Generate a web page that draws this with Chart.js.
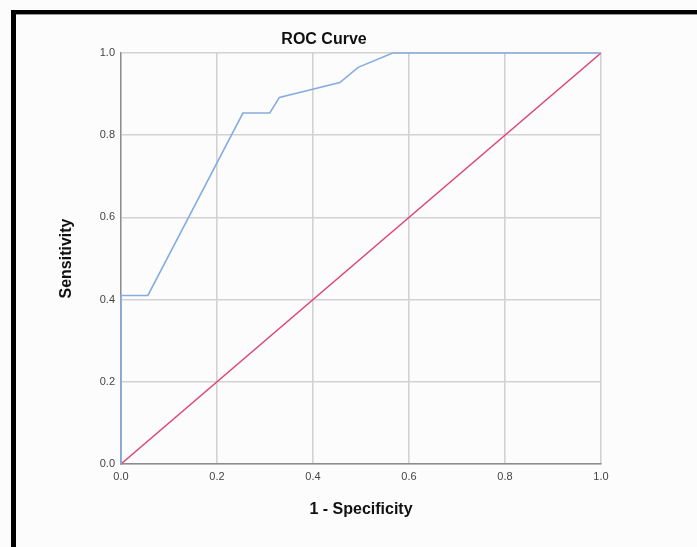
<!DOCTYPE html>
<html>
<head>
<meta charset="utf-8">
<script src="https://cdn.jsdelivr.net/npm/chart.js@4.4.1/dist/chart.umd.min.js"></script>
<style>
  html, body { margin: 0; padding: 0; background: #fcfcfc; }
  #wrap { position: relative; width: 697px; height: 547px; overflow: hidden; }
  #rocChart { position: absolute; left: 0; top: 0; }
  #frame {
    position: absolute; left: 11px; top: 10px; width: 690px; height: 545px;
    border-top: 4px solid #000; border-left: 5px solid #000;
    box-shadow: inset 0 1px 0 #999;
    pointer-events: none;
  }
</style>
</head>
<body>
<div id="wrap">
  <canvas id="rocChart" width="697" height="547"></canvas>
  <div id="frame"></div>
</div>
<script>
// ROC curve (1 - specificity, sensitivity)
const rocX = [0, 0, 0.056, 0.254, 0.31, 0.33, 0.456, 0.494, 0.566, 1];
const rocY = [0, 0.41, 0.41, 0.854, 0.854, 0.892, 0.928, 0.965, 1, 1];

// chance diagonal
const refX = [0, 1];
const refY = [0, 1];

const axisTicks = [0, 0.2, 0.4, 0.6, 0.8, 1.0];

const toPoints = (xs, ys) => xs.map((x, i) => ({ x: x, y: ys[i] }));

// Title sits left of the plot centre in the original, so draw it by hand
const titlePlugin = {
    id: 'rocTitle',
    afterDraw(chart) {
        const ctx = chart.ctx;
        ctx.save();
        ctx.font = 'bold 16px "Liberation Sans", Arial, sans-serif';
        ctx.fillStyle = '#111';
        ctx.textAlign = 'center';
        ctx.textBaseline = 'middle';
        ctx.fillText('ROC Curve', 324, 40);
        ctx.restore();
    }
};

const tickFont = { family: '"Liberation Sans", Arial, sans-serif', size: 11 };
const titleFont = { family: '"Liberation Sans", Arial, sans-serif', size: 16, weight: 'bold' };

const ctx = document.getElementById('rocChart').getContext('2d');
new Chart(ctx, {
    type: 'scatter',
    data: {
        datasets: [
            {
                label: 'ROC',
                data: toPoints(rocX, rocY),
                showLine: true,
                borderColor: '#86ace0',
                borderWidth: 1.6,
                pointRadius: 0,
                tension: 0,
                clip: false
            },
            {
                label: 'Reference',
                data: toPoints(refX, refY),
                showLine: true,
                borderColor: '#dc4776',
                borderWidth: 1.6,
                pointRadius: 0,
                tension: 0,
                clip: false
            }
        ]
    },
    options: {
        responsive: false,
        animation: false,
        layout: { padding: { top: 53, right: 96, bottom: 0, left: 0 } },
        plugins: {
            legend: { display: false },
            title: { display: false },
            tooltip: { enabled: false }
        },
        scales: {
            x: {
                type: 'linear',
                min: 0,
                max: 1,
                afterBuildTicks: (scale) => { scale.ticks = axisTicks.map(v => ({ value: v })); },
                afterFit: (scale) => { scale.height = 83; },
                grid: { color: '#d2d2d2', lineWidth: 1.6, drawTicks: false },
                border: { color: '#8c8c8c', width: 1.4 },
                ticks: {
                    padding: 6,
                    color: '#444',
                    font: tickFont,
                    callback: (v) => Number(v).toFixed(1)
                },
                title: {
                    display: true,
                    text: '1 - Specificity',
                    color: '#111',
                    font: titleFont,
                    padding: { top: 0, bottom: 28 }
                }
            },
            y: {
                type: 'linear',
                min: 0,
                max: 1,
                afterBuildTicks: (scale) => { scale.ticks = axisTicks.map(v => ({ value: v })); },
                afterFit: (scale) => { scale.width = 121; },
                grid: { color: '#d2d2d2', lineWidth: 1.6, drawTicks: false },
                border: { color: '#8c8c8c', width: 1.4 },
                ticks: {
                    padding: 6,
                    color: '#444',
                    font: tickFont,
                    callback: (v) => Number(v).toFixed(1)
                },
                title: {
                    display: true,
                    text: 'Sensitivity',
                    color: '#111',
                    font: titleFont,
                    padding: { top: 57, bottom: 0 }
                }
            }
        }
    },
    plugins: [titlePlugin]
});
</script>
</body>
</html>
